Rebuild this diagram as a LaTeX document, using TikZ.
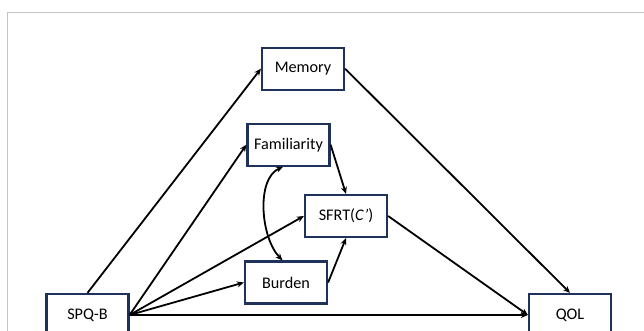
\documentclass[tikz,border=0pt]{standalone}
\usepackage{fontspec}
\setmainfont{Carlito}
\usetikzlibrary{arrows.meta}
\definecolor{boxblue}{RGB}{31,50,90}
\definecolor{frame}{RGB}{196,196,196}
\begin{document}
\begin{tikzpicture}[x=1pt,y=-1pt,
  box/.style={draw=boxblue,line width=2.2pt,fill=white,minimum width=82pt,minimum height=42pt,inner sep=0pt,font=\fontsize{16.2}{18}\selectfont},
  arr/.style={line width=1.8pt,-{Stealth[length=7pt,width=6pt]}},
  dbl/.style={line width=1.8pt,{Stealth[length=7pt,width=6pt]}-{Stealth[length=7pt,width=6pt]}}]
\useasboundingbox (0,0) rectangle (644,331);
\draw[frame,line width=1pt] (7,331) -- (7,12.5) -- (644,12.5);
\node[box] (mem) at (303,68.7) {Memory};
\node[box] (fam) at (288.5,144.7) {Familiarity};
\node[box] (sfrt) at (346,216) {SFRT(\textit{C’})};
\node[box] (bur) at (286,282.5) {Burden};
\node[box] (spq) at (87.5,315) {SPQ-B};
\node[box] (qol) at (570,315) {QOL};
\draw[arr] (spq.north) -- (mem.west);
\draw[arr] (spq.east) -- (fam.west);
\draw[arr] (spq.east) -- (sfrt.west);
\draw[arr] (spq.east) -- (bur.west);
\draw[arr,line width=2.3pt] (spq.east) -- (qol.west);
\draw[arr] (mem.east) -- (qol.north);
\draw[arr] (fam.east) -- (sfrt.north);
\draw[arr] (bur.east) -- (sfrt.south);
\draw[arr] (sfrt.east) -- (qol.west);
\draw[dbl] ([xshift=-5.5pt]fam.south) .. controls +(-27,12) and +(-22,-23) .. ([xshift=-3.5pt]bur.north);
\end{tikzpicture}
\end{document}
